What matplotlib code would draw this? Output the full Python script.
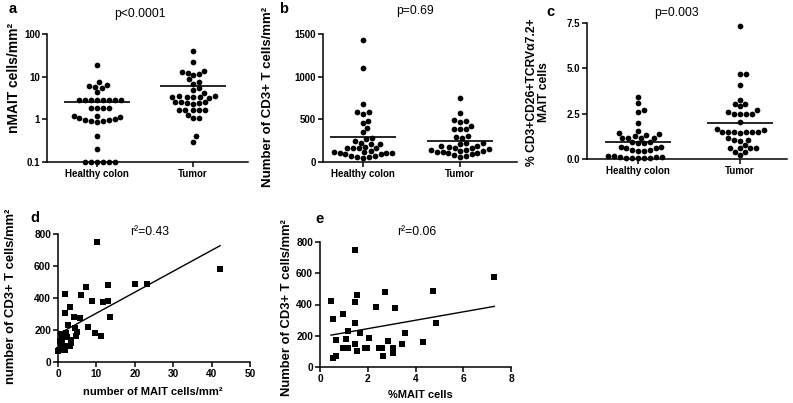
import numpy as np
import matplotlib
matplotlib.use("Agg")
import matplotlib.pyplot as plt
from matplotlib.ticker import NullLocator

plt.rcParams['font.family'] = ['Liberation Sans', 'DejaVu Sans']
plt.rcParams['font.weight'] = 'bold'

# ---- data ----
groups = ["Healthy colon", "Tumor"]

# a: nMAIT cells/mm2
a_healthy = [19, 7.4, 6.3, 6.0, 5.8, 5.3, 4.3,
             2.9, 2.9, 2.9, 2.9, 2.9, 2.9, 2.9, 2.9,
             1.8, 1.8, 1.8, 1.8,
             1.2, 1.15, 1.05, 0.95, 0.9, 0.85, 0.9, 0.95, 1.0, 1.2,
             0.4, 0.2, 0.1, 0.1, 0.1, 0.1, 0.1, 0.1]
a_tumor = [41, 22.4, 13.5, 12.9, 12.3, 11.5, 10.9, 8.7, 7.5, 6.9, 5.3, 4.9, 4.2,
           3.6, 3.5, 3.4, 3.4, 3.3, 3.3, 3.1, 2.6, 2.6, 2.5, 2.4, 2.4, 2.3,
           1.65, 1.65, 1.65, 1.65, 1.65, 1.25, 1.05, 1.05, 0.4, 0.3]

# b: CD3+ T cells/mm2
b_healthy = [1430, 1105, 676, 582, 582, 562, 484, 453, 395, 348, 277, 266, 246,
             227, 207, 211, 180, 160, 160, 160, 160,
             121, 109, 101, 90, 74, 62, 43, 62, 74, 90, 101, 113, 129]
b_tumor = [746, 578, 484, 492, 465, 422, 383, 383, 383, 305, 289, 277,
           219, 211, 188, 168, 168, 180, 188, 219,
           148, 141, 133, 121, 102, 82, 62, 70, 94, 109, 121, 133, 141]

# c: % CD3+CD26+TCRVa7.2+ MAIT cells
c_healthy = [3.43, 3.09, 2.72, 2.59, 2.0, 1.57, 1.44, 1.39, 1.33, 1.26,
             1.17, 1.17, 1.17, 1.17, 0.93, 0.93, 0.87, 0.87, 0.65, 0.65,
             0.61, 0.61, 0.5, 0.5, 0.43, 0.43, 0.15, 0.15, 0.1, 0.09,
             0.06, 0.05, 0.04, 0.04, 0.06, 0.09]
c_tumor = [7.31, 4.67, 4.67, 4.07, 3.28, 3.06, 3.06, 2.91, 2.69, 2.6, 2.5, 2.5,
           2.5, 2.5, 2.04, 1.67, 1.6, 1.48, 1.48, 1.48, 1.48, 1.48, 1.48, 1.44,
           1.15, 1.07, 1.07, 1.02, 0.78, 0.59, 0.59, 0.59, 0.59, 0.37, 0.37, 0.22]

# d: MAIT cells/mm2 vs CD3+ T cells/mm2
d_mait = [10.2, 42.2, 7.3, 13.1, 20.05, 23.3, 1.8, 6.0, 8.9, 11.6, 13.0, 13.5,
          3.1, 1.8, 4.2, 5.7, 7.7, 9.6, 11.3, 2.6, 4.3, 5.0, 4.8, 0.9, 2.2,
          1.1, 2.4, 3.3, 0.7, 1.7, 3.0, 0.3, 0.9, 1.9, 0.4, 3.5, 2.6, 0.1]
d_cd3 = [748, 579, 467, 481, 485, 488, 423, 419, 381, 377, 381, 283,
         346, 308, 283, 277, 221, 179, 165, 233, 212, 190, 160, 175, 181,
         139, 154, 139, 108, 98, 102, 77, 87, 77, 129, 118, 98, 66]
d_fit = (13.1, 174)  # slope, intercept
d_r2 = "r²=0.43"

# e: %MAIT cells vs CD3+ T cells/mm2
e_mait = [1.47, 7.30, 4.73, 0.46, 1.47, 1.57, 2.74, 2.36, 3.16, 0.98, 0.56, 1.47,
          4.84, 1.16, 1.66, 3.54, 0.67, 1.09, 2.04, 1.47, 3.44, 4.32, 2.83, 0.95,
          1.19, 1.87, 1.97, 2.46, 2.60, 3.04, 3.04, 1.57, 2.64, 0.67, 0.56]
e_cd3 = [747, 577, 488, 421, 417, 464, 480, 381, 376, 338, 306, 279,
         280, 230, 215, 220, 172, 177, 187, 145, 147, 158, 166, 123,
         123, 123, 123, 123, 120, 120, 92, 102, 72, 72, 55]
e_fit = (26.9, 191.6)
e_r2 = "r²=0.06"

W, H = 793, 403
fig = plt.figure(figsize=(W / 100, H / 100), dpi=100)


def px_axes(l, r, t, b):
    return fig.add_axes([l / W, 1 - b / H, (r - l) / W, (b - t) / H])


def px_text(x, y, s, **kw):
    fig.text(x / W, 1 - y / H, s, **kw)


def style(ax, lsize=7):
    for s in ['top', 'right']:
        ax.spines[s].set_visible(False)
    for s in ['left', 'bottom']:
        ax.spines[s].set_linewidth(1.1)
    ax.tick_params(direction='out', length=3.5, width=1.1, labelsize=lsize, pad=1.5)


def swarm(ax, xc, vals, diam=6.0):
    # simple beeswarm in pixel space
    vals = np.asarray(vals, float)
    tr = ax.transData
    pts = tr.transform(np.column_stack([np.full(len(vals), xc), vals]))
    ypix = pts[:, 1]
    x0 = pts[0, 0]
    order = np.argsort(ypix, kind='stable')
    placed = []
    offs = np.zeros(len(vals))
    for i in order:
        y = ypix[i]
        cands = [0.0]
        for px, py in placed:
            dy = abs(py - y)
            if dy < diam:
                dx = np.sqrt(diam ** 2 - dy ** 2)
                cands += [px + dx, px - dx]
        cands.sort(key=abs)
        for c in cands:
            if all((c - px) ** 2 + (y - py) ** 2 >= diam ** 2 - 1e-6 for px, py in placed):
                break
        placed.append((c, y))
        offs[i] = c
    xy = tr.inverted().transform(np.column_stack([x0 + offs, ypix]))
    return xy[:, 0]


def dot_panel(box, hx, tx, data, ylim, log=False):
    l, r, t, b = box
    sp = tx - hx
    ax = px_axes(l, r, t, b)
    ax.set_xlim((l - hx) / sp, (r - hx) / sp)
    if log:
        ax.set_yscale('log')
    ax.set_ylim(*ylim)
    for i, vals in enumerate(data):
        xs = swarm(ax, i, vals)
        ax.scatter(xs, vals, s=17, c='black', linewidths=0, clip_on=False, zorder=3)
        half = 33 / sp
        ax.hlines(np.mean(vals), i - half, i + half, colors='black', linewidth=1.2, zorder=4)
    ax.set_xticks([0, 1])
    ax.set_xticklabels(groups)
    style(ax)
    return ax


# a
ax = dot_panel((47, 248, 34, 162), 97, 193, [a_healthy, a_tumor], (0.1, 100), log=True)
ax.set_yticks([0.1, 1, 10, 100])
ax.set_yticklabels(['0.1', '1', '10', '100'])
ax.yaxis.set_minor_locator(NullLocator())

# b
ax = dot_panel((323, 517, 34, 162), 363, 460, [b_healthy, b_tumor], (0, 1500))
ax.set_yticks([0, 500, 1000, 1500])

# c
ax = dot_panel((587, 787, 23, 159), 638, 740, [c_healthy, c_tumor], (0, 7.5))
ax.set_yticks([0, 2.5, 5.0, 7.5])
ax.set_yticklabels(['0.0', '2.5', '5.0', '7.5'])


def corr_panel(box, x, y, fit, xlim, xticks):
    ax = px_axes(*box)
    ax.scatter(x, y, s=18, marker='s', c='black', linewidths=0, clip_on=False, zorder=3)
    xx = np.array([min(x), max(x)])
    ax.plot(xx, fit[0] * xx + fit[1], color='black', linewidth=1.0, zorder=2)
    ax.set_xlim(*xlim)
    ax.set_ylim(0, 800)
    ax.set_xticks(xticks)
    ax.set_yticks([0, 200, 400, 600, 800])
    style(ax, 7.3)
    return ax


corr_panel((58, 250, 234, 362), d_mait, d_cd3, d_fit, (0, 50), [0, 10, 20, 30, 40, 50])
corr_panel((320, 511, 242, 367), e_mait, e_cd3, e_fit, (0, 8), [0, 2, 4, 6, 8])

# labels
px_text(14, 78, 'nMAIT cells/mm²', rotation=90, ha='center', va='center', fontsize=10)
px_text(268, 97, 'Number of CD3+ T cells/mm²', rotation=90, ha='center', va='center', fontsize=9.5)
px_text(538, 92, '% CD3+CD26+TCRVα7.2+\nMAIT cells', rotation=90, ha='center', va='center',
        fontsize=8.7, linespacing=1.1, multialignment='center')
px_text(11, 296, 'number of CD3+ T cells/mm²', rotation=90, ha='center', va='center', fontsize=9.4)
px_text(153, 392, 'number of MAIT cells/mm²', ha='center', va='center', fontsize=8)
px_text(287, 308, 'Number of CD3+ T cells/mm²', rotation=90, ha='center', va='center', fontsize=9.4)
px_text(420, 395, '%MAIT cells', ha='center', va='center', fontsize=8)

px_text(140, 14, 'p<0.0001', ha='center', va='center', fontsize=8.7, fontweight='normal')
px_text(415, 11, 'p=0.69', ha='center', va='center', fontsize=8.7, fontweight='normal')
px_text(676, 13, 'p=0.003', ha='center', va='center', fontsize=8.7, fontweight='normal')
px_text(150, 232, d_r2, ha='center', va='center', fontsize=8.7, fontweight='normal')
px_text(417, 232, e_r2, ha='center', va='center', fontsize=8.7, fontweight='normal')

for lab, x, y in [('a', 9, 13), ('b', 279, 13), ('c', 546, 16), ('d', 30, 222), ('e', 315, 223)]:
    px_text(x, y, lab, ha='left', va='baseline', fontsize=10.5)

fig.savefig('out.png', dpi=100)
